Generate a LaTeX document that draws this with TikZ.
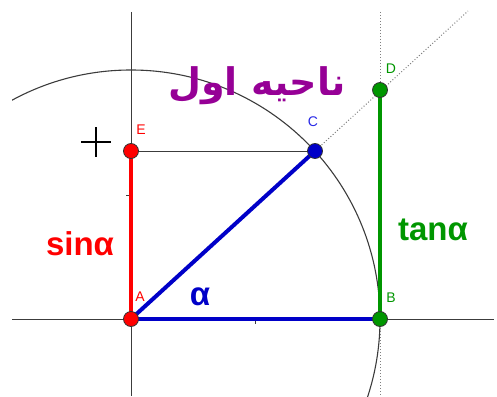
\documentclass[tikz,border=0pt]{standalone}
\usepackage{fontspec}
\newfontfamily\lsans{Liberation Sans}
\newfontfamily\arabicfont[Script=Arabic]{DejaVu Sans}
\TeXXeTstate=1
\definecolor{ggred}{RGB}{255,0,0}
\definecolor{ggblue}{RGB}{0,0,200}
\definecolor{gglblue}{RGB}{40,40,230}
\definecolor{gggreen}{RGB}{0,150,0}
\definecolor{ggpurple}{RGB}{150,0,150}
\definecolor{ggaxis}{RGB}{60,60,60}
\tikzset{
  axisline/.style={draw=ggaxis, line width=1pt},
  thinline/.style={draw=ggaxis, line width=1pt},
  dotline/.style={draw=gray, line width=1pt, dotted},
  segline/.style={line width=4pt},
  pt/.style={circle, minimum size=15pt, inner sep=0pt, draw=black!80, line width=0.8pt},
  plabel/.style={font=\lsans\fontsize{14}{14}\selectfont, inner sep=0pt},
  biglabel/.style={font=\lsans\bfseries\fontsize{33}{33}\selectfont, inner sep=0pt},
}
\begin{document}
\begin{tikzpicture}[x=1pt,y=-1pt]
\useasboundingbox (0,0) rectangle (497,396);
% named coordinates
\coordinate (A) at (131,319);
\coordinate (B) at (380,319);
\coordinate (C) at (315,151);
\coordinate (D) at (380,90);
\coordinate (E) at (131,151);
\coordinate (axL) at (12,319);
\coordinate (axR) at (494,319);
\coordinate (ayT) at (131,12);
\coordinate (ayB) at (131,396);
\coordinate (vT) at (380,12);
\coordinate (vB) at (380,396);
\coordinate (dEnd) at (468,11);
% circle (clipped)
\begin{scope}
  \clip (12,11) rectangle (494,396);
  \draw[draw=ggaxis, line width=1.1pt] (A) circle (249);
\end{scope}
% axes
\draw[axisline] (axL) -- (axR);
\draw[axisline] (ayT) -- (ayB);
% ticks
\draw[axisline] (255,319) -- (255,324);
\draw[axisline] (131,195) -- (126,195);
% dotted lines
\draw[dotline] (C) -- (dEnd);
\draw[dotline] (vT) -- (D);
\draw[dotline] (B) -- (vB);
% thin EC
\draw[thinline] (E) -- (C);
% thick segments
\draw[segline, ggred] (E) -- (A);
\draw[segline, ggblue] (A) -- (C);
\draw[segline, ggblue] (A) -- (B);
\draw[segline, gggreen] (B) -- (D);
% crosshair
\draw[line width=2pt, black] (81,142) -- (111,142);
\draw[line width=2pt, black] (96,127) -- (96,157);
% points
\node[pt, fill=ggred] (pA) at (A) {};
\node[pt, fill=ggred] (pE) at (E) {};
\node[pt, fill=ggblue] (pC) at (C) {};
\node[pt, fill=gggreen] (pB) at (B) {};
\node[pt, fill=gggreen] (pD) at (D) {};
% point labels
\node[plabel, text=ggred] (lA) at (140,297) {A};
\node[plabel, text=ggred] (lE) at (141,130) {E};
\node[plabel, text=gglblue] (lC) at (313,122) {C};
\node[plabel, text=gggreen] (lD) at (391,69) {D};
\node[plabel, text=gggreen] (lB) at (391,298) {B};
% big labels
\node[biglabel, text=ggred] (sin) at (80,244) {sinα};
\node[biglabel, text=gggreen] (tan) at (433,230) {tanα};
\node[biglabel, text=ggblue] (alpha) at (200,297) {α};
% arabic title
\node[font=\arabicfont\bfseries\fontsize{38}{38}\selectfont, text=ggpurple, inner sep=0pt] (title) at (257,86) {\beginR ناحیه اول\endR};
\end{tikzpicture}
\end{document}
